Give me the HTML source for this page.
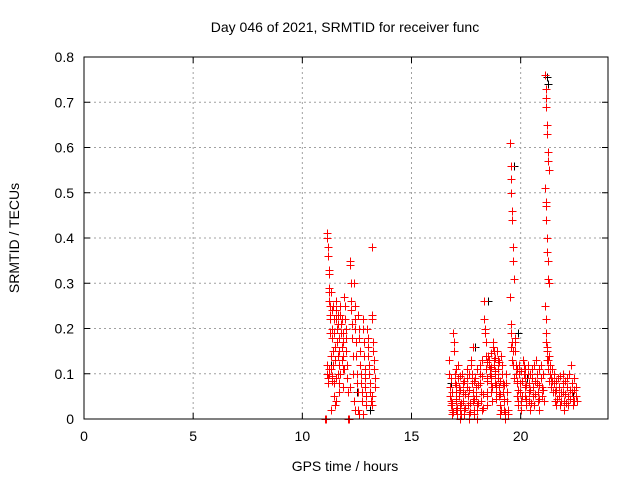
<!DOCTYPE html>
<html><head><meta charset="utf-8"><style>
body{margin:0;background:#fff;}
svg text{font-family:"Liberation Sans",sans-serif;font-size:14px;fill:#000;}
</style></head><body>
<svg id="chart" width="640" height="480" xmlns="http://www.w3.org/2000/svg">
<rect width="640" height="480" fill="#fff"/>
<g id="grid"></g>
<g id="pts" shape-rendering="crispEdges"></g>
<g id="axes"></g>
<text x="345" y="32" text-anchor="middle">Day 046 of 2021, SRMTID for receiver func</text>
<text x="345" y="471" text-anchor="middle">GPS time / hours</text>
<text transform="translate(19,238) rotate(-90)" text-anchor="middle">SRMTID / TECUs</text>
</svg>
<script>
const xTicks=[0,5,10,15,20];
const yTicks=[0,0.1,0.2,0.3,0.4,0.5,0.6,0.7,0.8];
const yTickLabels=["0","0.1","0.2","0.3","0.4","0.5","0.6","0.7","0.8"];
const redCols=[
[11.1,[0,0,0,0]],[12.15,[0,0,0,0]],
[11.2,[0.41,0.40,0.38,0.36,0.33,0.32,0.28,0.25,0.22,0.12,0.10,0.09,0.08,0.11,0.1]],
[11.3,[0.29,0.26,0.23,0.19,0.14,0.11,0.095,0.085]],
[11.4,[0.28,0.24,0.2,0.18,0.15,0.12,0.08,0.05,0.03,0.02]],
[11.5,[0.25,0.22,0.19,0.16,0.13,0.09]],
[11.6,[0.26,0.24,0.22,0.2,0.17,0.14,0.1,0.08,0.06,0.04]],
[11.7,[0.23,0.21,0.18,0.15,0.12,0.1]],
[11.8,[0.25,0.23,0.21,0.19,0.16,0.13,0.11,0.07]],
[11.9,[0.22,0.19,0.17,0.14,0.11]],
[12.0,[0.27,0.25,0.22,0.2,0.18,0.15,0.12,0.09,0.06]],
[12.25,[0.35,0.34,0.3,0.26,0.24,0.21,0.18,0.14,0.1,0.07]],
[12.45,[0.3,0.25,0.22,0.2,0.17,0.14,0.1,0.08,0.06,0.04,0.02]],
[12.65,[0.23,0.2,0.18,0.15,0.12,0.1,0.08,0.06,0.04,0.02,0.01]],
[12.85,[0.22,0.2,0.17,0.14,0.11,0.09,0.07,0.05,0.03,0.01]],
[13.05,[0.2,0.18,0.16,0.14,0.12,0.1,0.08,0.06,0.04]],
[13.25,[0.38,0.23,0.22,0.17,0.15,0.13,0.11,0.09,0.07,0.05,0.03]],
[16.8,[0.13,0.1,0.07,0.05,0.04,0.03,0.02,0.01]],
[16.9,[0.09,0.06,0.035,0.015]],
[17.0,[0.19,0.17,0.15,0.1,0.08,0.06,0.04,0.02,0.01]],
[17.1,[0.11,0.075,0.045,0.025]],
[17.2,[0.12,0.09,0.07,0.05,0.03,0.02,0.0]],
[17.3,[0.095,0.065,0.035,0.01]],
[17.4,[0.1,0.08,0.06,0.04,0.02,0.01]],
[17.5,[0.085,0.055,0.025]],
[17.6,[0.11,0.09,0.07,0.05,0.03,0.01,0.0]],
[17.7,[0.1,0.065,0.035,0.015]],
[17.8,[0.13,0.12,0.1,0.08,0.06,0.04,0.02]],
[17.9,[0.16,0.085,0.045,0.01]],
[18.0,[0.09,0.07,0.05,0.03,0.02,0.0]],
[18.1,[0.11,0.075,0.035]],
[18.2,[0.12,0.1,0.08,0.06,0.04,0.02]],
[18.3,[0.13,0.095,0.055,0.025]],
[18.4,[0.26,0.22,0.2,0.19,0.14,0.11,0.09,0.06,0.03]],
[18.5,[0.17,0.125,0.085,0.05]],
[18.6,[0.14,0.13,0.12,0.11,0.1,0.09,0.08,0.06,0.04]],
[18.7,[0.145,0.115,0.095,0.07]],
[18.8,[0.17,0.16,0.15,0.13,0.12,0.1,0.08,0.06]],
[18.9,[0.135,0.105,0.075,0.045]],
[19.0,[0.15,0.13,0.11,0.09,0.07,0.05,0.03,0.01]],
[19.1,[0.125,0.085,0.055,0.02]],
[19.2,[0.14,0.12,0.1,0.08,0.06,0.04,0.02,0.0]],
[19.3,[0.075,0.045,0.015]],
[19.4,[0.1,0.08,0.06,0.04,0.02,0.01]],
[19.6,[0.61,0.56,0.53,0.5,0.46,0.44,0.38,0.35,0.31,0.27,0.21,0.19,0.16,0.13]],
[19.7,[0.17,0.15,0.12,0.09]],
[19.8,[0.18,0.17,0.15,0.12,0.1,0.08,0.05,0.03]],
[19.9,[0.11,0.085,0.065,0.04]],
[20.0,[0.12,0.1,0.08,0.06,0.04,0.02]],
[20.1,[0.105,0.085,0.05]],
[20.2,[0.13,0.12,0.1,0.09,0.07,0.05,0.03]],
[20.3,[0.11,0.075,0.045]],
[20.4,[0.12,0.1,0.08,0.06,0.04,0.02]],
[20.5,[0.1,0.065,0.035]],
[20.6,[0.11,0.09,0.07,0.05,0.03]],
[20.7,[0.12,0.085,0.055]],
[20.8,[0.13,0.1,0.08,0.06,0.04,0.02]],
[20.9,[0.11,0.075,0.045]],
[21.0,[0.12,0.09,0.07,0.05]],
[21.1,[0.1,0.065,0.04]],
[21.2,[0.76,0.73,0.71,0.69,0.65,0.63,0.59,0.57,0.55,0.51,0.48,0.47,0.44,0.4,0.37,0.35,0.31,0.3,0.25,0.22,0.19,0.17,0.15,0.13]],
[21.3,[0.16,0.13,0.11,0.085]],
[21.4,[0.14,0.12,0.1,0.09,0.07]],
[21.5,[0.11,0.085,0.06]],
[21.6,[0.1,0.08,0.06,0.04,0.03]],
[21.7,[0.085,0.065,0.045]],
[21.8,[0.09,0.07,0.05,0.03]],
[21.9,[0.095,0.06,0.04]],
[22.0,[0.1,0.08,0.06,0.04,0.02]],
[22.1,[0.085,0.055,0.035]],
[22.2,[0.09,0.07,0.05,0.03]],
[22.3,[0.1,0.065,0.045]],
[22.4,[0.12,0.08,0.06,0.04,0.03]],
[22.5,[0.09,0.065,0.04]],
[22.6,[0.07,0.05,0.04]]
];
const blackT=[11.3,11.5,12.5,13.1,16.8,17.9,18.5,19.7,19.9,20.3,21.2,21.25,22.4];
const blackV=[0.12,0.03,0.06,0.02,0.08,0.16,0.26,0.56,0.19,0.09,0.755,0.74,0.05];

const L=84,R=608,T=57,B=419,XMAX=24,YMAX=0.8;
const sx=t=>L+(R-L)*t/XMAX;
const sy=v=>B-(B-T)*v/YMAX;
const NS="http://www.w3.org/2000/svg";
function mk(tag,attrs,parent){const e=document.createElementNS(NS,tag);for(const k in attrs)e.setAttribute(k,attrs[k]);parent.appendChild(e);return e;}
const grid=document.getElementById('grid'),axes=document.getElementById('axes'),pts=document.getElementById('pts');
xTicks.forEach(t=>{
 const x=sx(t);
 if(t>0){const g=mk('line',{x1:x,x2:x,y1:T,y2:B,stroke:'#a0a0a0','stroke-dasharray':'2,3'},grid);
 
 }
 mk('line',{x1:x,x2:x,y1:B,y2:B-6,stroke:'#000'},axes);
 mk('line',{x1:x,x2:x,y1:T,y2:T+6,stroke:'#000'},axes);
 const tx=mk('text',{x:x,y:B+22,'text-anchor':'middle'},axes);tx.textContent=t;
 
 
});
yTicks.forEach((v,i)=>{
 const y=sy(v);
 if(v>0&&v<YMAX){const g=mk('line',{x1:L,x2:R,y1:y,y2:y,stroke:'#a0a0a0','stroke-dasharray':'2,3'},grid);
 
 }
 mk('line',{x1:L,x2:L+6,y1:y,y2:y,stroke:'#000'},axes);
 mk('line',{x1:R,x2:R-6,y1:y,y2:y,stroke:'#000'},axes);
 const tx=mk('text',{x:L-10,y:y+5,'text-anchor':'end'},axes);tx.textContent=yTickLabels[i];
 
 
});
const frame=mk('rect',{x:L,y:T,width:R-L,height:B-T,fill:'none',stroke:'#000'},axes);


function plus(t,v,col,name){
 const x=Math.round(sx(t))+0.5,y=Math.round(sy(v))+0.5;
 const p=mk('path',{d:`M${x-4} ${y}H${x+4}M${x} ${y-4}V${y+4}`,stroke:col,'stroke-width':1,fill:'none'},pts);
 
 
}
blackT.forEach((t,i)=>plus(t,blackV[i],'#000000','black-point'));
redCols.forEach(([t,vals])=>{
 vals.forEach((v,i)=>{const off=(((i*37)%9)-4)*0.02;plus(t+off,v,'#ff0000','red-point');});
});
</script>
</body></html>
